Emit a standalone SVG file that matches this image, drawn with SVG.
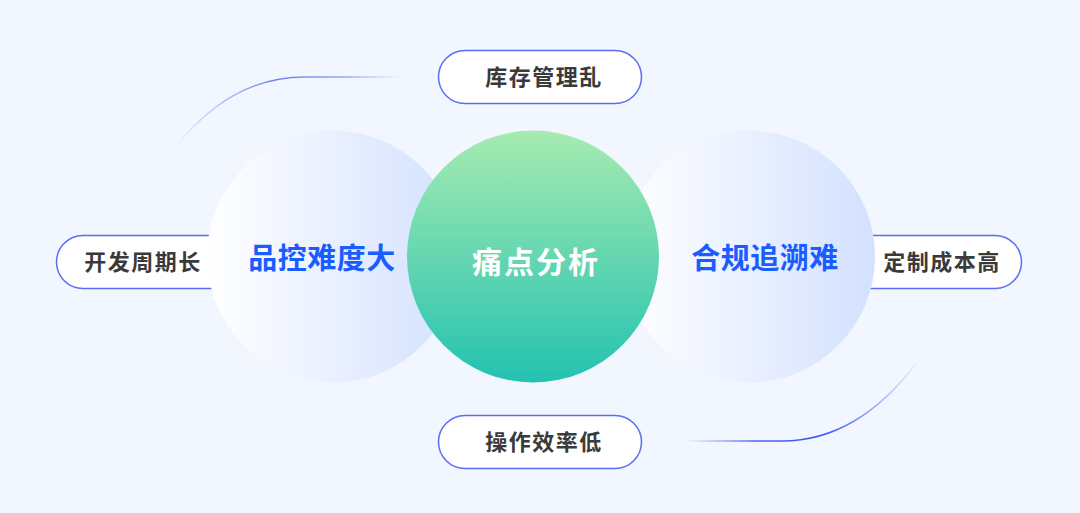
<svg xmlns="http://www.w3.org/2000/svg" width="1080" height="513" viewBox="0 0 1080 513">
<defs>
<style>
.pill{fill:#fff;stroke:#5b6cf6;stroke-width:1.5}
.pt{font-family:"Noto Sans CJK SC",sans-serif;font-weight:700;font-size:22px;fill:#3a3a3a;text-anchor:middle;dominant-baseline:central;letter-spacing:1.5px}
.ct{font-family:"Noto Sans CJK SC",sans-serif;font-weight:700;font-size:29px;fill:#1a5cff;text-anchor:middle;dominant-baseline:central;letter-spacing:0.5px}
.mt{font-family:"Noto Sans CJK SC",sans-serif;font-weight:700;font-size:30px;fill:#fff;text-anchor:middle;dominant-baseline:central;letter-spacing:2px}
</style>
<linearGradient id="side" x1="0" y1="0" x2="1" y2="0">
<stop offset="0" stop-color="#ffffff"/>
<stop offset="1" stop-color="#d3e1ff"/>
</linearGradient>
<linearGradient id="green" x1="0" y1="0" x2="0" y2="1">
<stop offset="0" stop-color="#a7ebb0"/>
<stop offset="1" stop-color="#23c2b0"/>
</linearGradient>
<linearGradient id="arc1" gradientUnits="userSpaceOnUse" x1="173" y1="0" x2="400" y2="0">
<stop offset="0" stop-color="#6f7ff5" stop-opacity="0"/>
<stop offset="0.45" stop-color="#6f7ff5" stop-opacity="1"/>
<stop offset="0.75" stop-color="#8090f5" stop-opacity="0.8"/>
<stop offset="1" stop-color="#8090f5" stop-opacity="0"/>
</linearGradient>
<linearGradient id="arc2" gradientUnits="userSpaceOnUse" x1="920" y1="0" x2="683" y2="0">
<stop offset="0" stop-color="#4a5ff5" stop-opacity="0"/>
<stop offset="0.4" stop-color="#3d55f5" stop-opacity="1"/>
<stop offset="0.7" stop-color="#3d55f5" stop-opacity="0.9"/>
<stop offset="1" stop-color="#6a7cf5" stop-opacity="0"/>
</linearGradient>
</defs>
<rect width="1080" height="513" fill="#f1f6ff"/>
<g id="connectors">
<path d="M173,150 C210,103 252,77 305,77 L400,77" fill="none" stroke="url(#arc1)" stroke-width="1.5"/>
<path d="M918,361 C880,412 835,441 782,441 L683,441" fill="none" stroke="url(#arc2)" stroke-width="1.5"/>
</g>
<g id="node-top">
<rect class="pill" x="438.5" y="50.5" width="203" height="53" rx="26.5"/>
<text class="pt" x="544" y="75">库存管理乱</text>
</g>
<g id="node-bottom">
<rect class="pill" x="438.5" y="415.5" width="203" height="53" rx="26.5"/>
<text class="pt" x="544" y="440">操作效率低</text>
</g>
<g id="node-leftpill">
<rect class="pill" x="56.5" y="235.5" width="220" height="53" rx="26.5"/>
<text class="pt" x="143" y="260">开发周期长</text>
</g>
<g id="node-rightpill">
<rect class="pill" x="800.5" y="235.5" width="221" height="53" rx="26.5"/>
<text class="pt" x="942" y="260">定制成本高</text>
</g>
<g id="node-left">
<circle cx="333" cy="256.5" r="126" fill="url(#side)"/>
<text class="ct" x="322" y="256">品控难度大</text>
</g>
<g id="node-right">
<circle cx="749" cy="256.5" r="126" fill="url(#side)"/>
<text class="ct" x="765" y="256">合规追溯难</text>
</g>
<g id="node-center">
<circle cx="533" cy="256.5" r="126" fill="url(#green)"/>
<text class="mt" x="536" y="259.5">痛点分析</text>
</g>
</svg>
